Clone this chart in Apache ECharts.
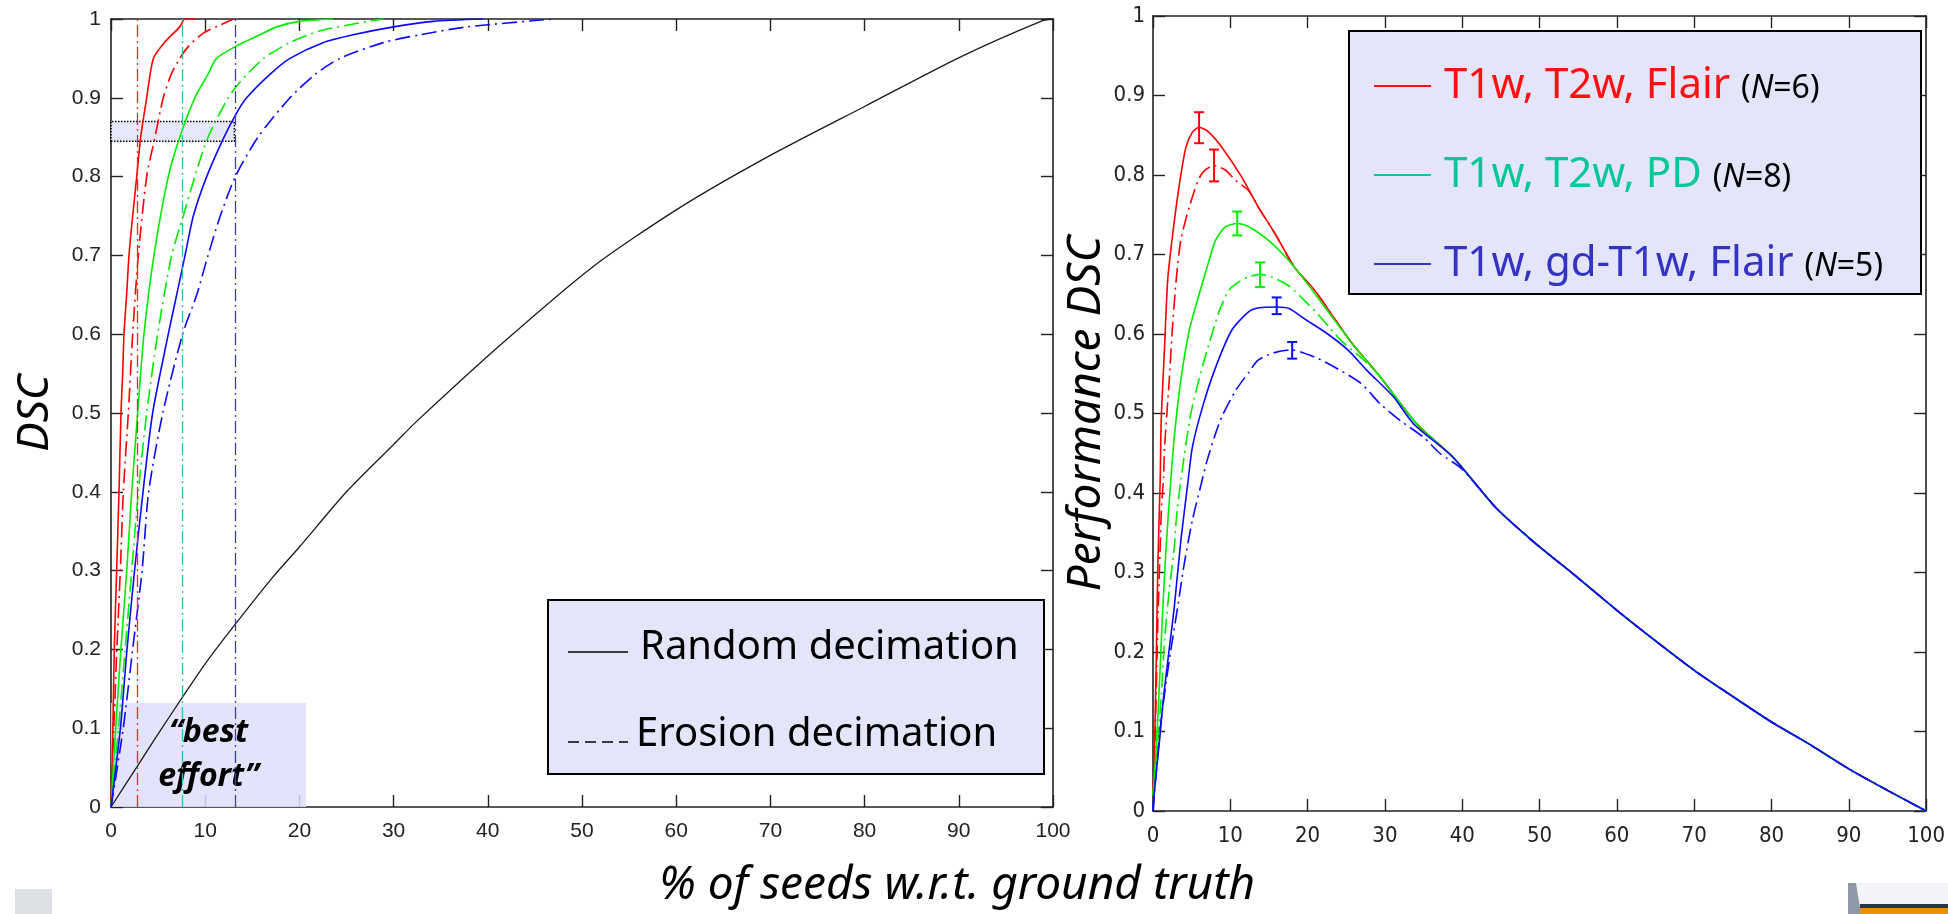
<!DOCTYPE html>
<html><head><meta charset="utf-8">
<script src="https://cdn.jsdelivr.net/npm/echarts@6.0.0/dist/echarts.min.js"></script>
<style>html,body{margin:0;padding:0;background:#fff}#c{width:1948px;height:914px}</style>
</head><body><div id="c"></div>
<script>
// ---------- LEFT PANEL DATA: DSC vs % of seeds ----------
const leftRedSolid = [[0,0],[0.2,0.1],[0.35,0.2],[0.6,0.3],[0.85,0.4],[1.06,0.5],[1.24,0.55],[1.38,0.6],[1.66,0.65],[1.91,0.7],[2.3,0.75],[2.73,0.8],[3.15,0.85],[3.79,0.9],[4.5,0.95],[5.73,0.971],[7.3,0.99],[7.85,1.0],[9.0,1.0]];
const leftRedDash = [[0,0],[0.3,0.1],[0.62,0.2],[0.99,0.3],[1.31,0.4],[1.84,0.5],[2.3,0.6],[2.9,0.7],[3.79,0.8],[4.67,0.85],[5.55,0.9],[6.4,0.93],[7.3,0.95],[8.2,0.965],[9.8,0.982],[11.6,0.9925],[13,1.0]];
const leftGreenSolid = [[0,0],[0.5,0.1],[1.05,0.2],[1.67,0.3],[2.2,0.4],[2.83,0.5],[3.5,0.6],[4.56,0.7],[6.08,0.8],[7.3,0.85],[8.9,0.9],[10.3,0.93],[11.2,0.95],[13.2,0.965],[15.8,0.98],[17.6,0.99],[20,0.997],[23.6,1.0]];
const leftGreenDash = [[0,0],[0.8,0.1],[1.5,0.2],[2.2,0.3],[2.9,0.4],[3.79,0.5],[4.95,0.6],[6.44,0.7],[7.67,0.75],[8.9,0.8],[10.3,0.85],[12.45,0.9],[13.7,0.92],[16.2,0.95],[19,0.97],[22.2,0.985],[26.4,0.995],[28.9,1.0]];
const leftBlueSolid = [[0,0],[1.0,0.1],[1.7,0.2],[2.5,0.3],[3.4,0.4],[4.42,0.5],[6.08,0.6],[6.97,0.65],[7.86,0.7],[8.74,0.75],[10.16,0.8],[12.0,0.85],[13.3,0.88],[14.4,0.9],[16.9,0.93],[19.0,0.95],[22.5,0.97],[25.7,0.98],[30.0,0.99],[34.2,0.997],[39.5,1.0]];
const leftBlueDash = [[0,0],[1.3,0.1],[2.3,0.2],[3.3,0.3],[4.0,0.4],[5.5,0.5],[7.6,0.6],[9.1,0.65],[10.3,0.7],[11.6,0.75],[13.2,0.8],[15.6,0.85],[19.0,0.9],[21.7,0.93],[24.3,0.95],[28.9,0.97],[32.8,0.98],[37.8,0.99],[47,1.0]];
const leftRandom = [[0,0],[2.7,0.05],[4.85,0.09],[7.57,0.139],[10.2,0.185],[13.2,0.232],[17.2,0.292],[20,0.33],[25,0.4],[30,0.46],[32.5,0.49],[41.3,0.586],[51.2,0.686],[60.3,0.76],[69.7,0.825],[80,0.889],[90.2,0.952],[98.9,0.998],[100,1]];
const leftVLines = [2.83, 7.57, 13.2];
const bestBox = [[0,0],[20.7,0.132]];
const dottedBox = [[0,0.845],[13.1,0.87]];

// ---------- RIGHT PANEL DATA: Performance DSC vs % of seeds ----------
const rightTail = [[44.3,0.382],[49,0.3405],[55,0.293],[60,0.2525],[65,0.214],[70,0.177],[75,0.144],[80,0.112],[85,0.0835],[90,0.053],[95,0.026],[100,0]];
const rightRedSolid = [[0,0.02],[0.2,0.08],[0.42,0.19],[0.63,0.311],[0.93,0.416],[1.06,0.491],[1.5,0.584],[1.9,0.668],[2.55,0.726],[3.0,0.76],[3.6,0.80],[4.26,0.835],[5.1,0.854],[5.96,0.86],[7.2,0.854],[8.9,0.835],[11.5,0.797],[13.6,0.76],[15.8,0.726],[18.3,0.684],[20.9,0.655],[23.5,0.619],[25.6,0.59],[29.4,0.546],[34.1,0.487],[38.8,0.445]];
const rightRedDash = [[0,0.02],[0.3,0.1],[0.63,0.24],[0.93,0.332],[1.06,0.374],[1.36,0.42],[1.5,0.458],[2.1,0.542],[2.5,0.605],[3.0,0.668],[3.6,0.718],[4.7,0.76],[6.2,0.80],[7.88,0.812],[9.4,0.806],[10.7,0.793],[12.4,0.78],[13.6,0.76],[15.8,0.726],[18.3,0.684],[20.9,0.655],[23.5,0.619],[25.6,0.59],[29.4,0.546],[34.1,0.487],[38.8,0.445]];
const rightGreenSolid = [[0,0.02],[0.43,0.08],[0.85,0.164],[1.19,0.24],[1.7,0.332],[2.3,0.416],[2.8,0.475],[3.6,0.542],[4.7,0.605],[6.0,0.651],[7.0,0.684],[8.1,0.718],[9.4,0.735],[10.9,0.739],[12.4,0.735],[14.9,0.718],[17.5,0.693],[20.0,0.663],[22.6,0.629],[25.6,0.59],[29.4,0.546],[34.1,0.487],[38.8,0.445]];
const rightGreenDash = [[0,0.02],[0.5,0.07],[1.06,0.143],[1.5,0.215],[2.1,0.278],[2.76,0.332],[3.0,0.366],[3.6,0.416],[4.9,0.5],[6.4,0.559],[8.5,0.627],[9.8,0.655],[11.0,0.665],[12.4,0.672],[13.85,0.675],[15.3,0.672],[17.5,0.661],[19.6,0.642],[21.5,0.623],[24.3,0.592],[27.3,0.567],[29.4,0.546],[34.1,0.487],[38.8,0.445]];
const rightBlueSolid = [[0,0.0],[0.2,0.026],[0.85,0.089],[1.36,0.143],[2.03,0.198],[2.76,0.257],[3.6,0.34],[4.5,0.412],[5.1,0.458],[6.4,0.508],[8.1,0.558],[10.2,0.605],[12.4,0.628],[13.7,0.633],[16.0,0.634],[17.6,0.632],[19.6,0.619],[22.6,0.6],[25.2,0.58],[27.7,0.554],[31.1,0.521],[33.7,0.487],[38.8,0.445]];
const rightBlueDash = [[0,0.0],[0.85,0.097],[1.5,0.148],[2.3,0.202],[3.2,0.257],[4.04,0.311],[5.1,0.366],[6.2,0.41],[7.0,0.441],[8.1,0.475],[8.9,0.496],[10.7,0.529],[12.4,0.552],[13.6,0.567],[15.5,0.576],[17.9,0.58],[20.9,0.571],[23.9,0.556],[26.9,0.538],[29.4,0.512],[32.0,0.491],[35,0.47],[37.1,0.45],[40,0.43]];
// error bars (x, mean, low, high, colour index)
const errX    = [5.96, 7.9, 10.9, 13.85, 16.0, 18.0];
const errMean = [0.859, 0.812, 0.739, 0.675, 0.634, 0.580];
const errLow  = [0.840, 0.792, 0.724, 0.659, 0.625, 0.569];
const errHigh = [0.879, 0.832, 0.754, 0.690, 0.646, 0.590];
const errCol  = [0, 0, 1, 1, 2, 2];
const legendNames = ['T1w, T2w, Flair', 'T1w, T2w, PD', 'T1w, gd-T1w, Flair'];
const legendN = [6, 8, 5];

// ---------- STYLE ----------
const RED = '#ff0000', GREEN = '#00ee00', BLUE = '#0a0aff';
const LEG_COLORS = ['#ff1010', '#00c896', '#3434c4'];
const errColors = [RED, GREEN, BLUE];
const DASHDOT = [15, 5, 2, 5];
const LAV = '#e5e5fa';
const TXT = '"Noto Sans", "DejaVu Sans", sans-serif';
const TICKF = '"Liberation Sans", Arial, sans-serif';
const NARROW = '"Liberation Sans Narrow", "DejaVu Sans Condensed", "Liberation Sans", sans-serif';

function line(name, data, color, type, xi, yi, extra) {
  return Object.assign({
    name, type: 'line', data, xAxisIndex: xi, yAxisIndex: yi,
    symbol: 'none', showSymbol: false, smooth: 0.25,
    lineStyle: { color, width: 1.6, type }, itemStyle: { color },
    silent: true, animation: false, z: 3
  }, extra || {});
}
const tail = rightTail;

function axisX(gi, pos, show, fontFamily, fontSize) {
  return {
    gridIndex: gi, type: 'value', min: 0, max: 100, interval: 10, position: pos,
    axisLine: { show: true, onZero: false, lineStyle: { color: '#222', width: 1.6 } },
    axisTick: { show: true, inside: true, length: 12, lineStyle: { color: '#222', width: 1.4 } },
    axisLabel: { show, fontSize: fontSize || 21, margin: 14, color: '#222', fontFamily },
    splitLine: { show: false }
  };
}
function axisY(gi, pos, show, fontFamily, fontSize, margin, name, nameGap, nameSize) {
  return {
    gridIndex: gi, type: 'value', min: 0, max: 1, interval: 0.1, position: pos,
    name: name || '', nameLocation: 'middle', nameGap: nameGap || 0, nameRotate: 90,
    nameTextStyle: { fontFamily: TXT, fontStyle: 'italic', fontSize: nameSize || 40, color: '#000' },
    axisLine: { show: true, onZero: false, lineStyle: { color: '#222', width: 1.6 } },
    axisTick: { show: true, inside: true, length: 12, lineStyle: { color: '#222', width: 1.4 } },
    axisLabel: { show, fontSize: fontSize || 21, margin: margin || 10, color: '#222', fontFamily },
    splitLine: { show: false }
  };
}

const chart = echarts.init(document.getElementById('c'), null, { renderer: 'canvas' });

const option = {
  backgroundColor: '#ffffff',
  animation: false,
  grid: [
    { left: 111, top: 19, width: 942, height: 788 },
    { left: 1153, top: 16, width: 782, height: 795 }
  ],
  xAxis: [
    axisX(0, 'bottom', true, TICKF, 21),
    axisX(0, 'top', false, TICKF),
    axisX(1, 'bottom', true, NARROW, 22),
    axisX(1, 'top', false, NARROW)
  ],
  yAxis: [
    axisY(0, 'left', true, TICKF, 21, 10, 'DSC', 54, 44),
    axisY(0, 'right', false, TICKF),
    axisY(1, 'left', true, NARROW, 22, 8, 'Performance DSC', 38, 46),
    axisY(1, 'right', false, NARROW)
  ],
  legend: {
    show: true, orient: 'vertical', left: 1369, top: 56,
    itemWidth: 57, itemHeight: 2, itemGap: 39, icon: 'rect', selectedMode: false,
    textStyle: {
      fontFamily: TXT, fontSize: 42, lineHeight: 50,
      rich: {
        g: { width: 8 },
        n: { fontFamily: TXT, fontSize: 32, color: '#000', padding: [6, 0, 0, 0] },
        ni: { fontFamily: TXT, fontSize: 32, color: '#000', fontStyle: 'italic', padding: [6, 0, 0, 0] }
      }
    },
    formatter: function (name) {
      const i = legendNames.indexOf(name);
      return '{g|}' + name + ' {n|(}{ni|N}{n|=' + legendN[i] + ')}';
    },
    data: legendNames.map((n, i) => ({ name: n, textStyle: { color: LEG_COLORS[i] }, itemStyle: { color: LEG_COLORS[i] } }))
  },
  series: [
    // left panel
    line('Random decimation', leftRandom, '#1a1a1a', 'solid', 0, 0, {
      lineStyle: { color: '#1a1a1a', width: 1.3 },
      markArea: {
        silent: true,
        data: [
          [{ coord: bestBox[0], itemStyle: { color: 'rgba(222,222,250,0.85)', borderWidth: 0 },
             label: { show: true, position: 'inside', formatter: '\u201Cbest\neffort\u201D', fontFamily: TXT, fontStyle: 'italic', fontWeight: 'bold', fontSize: 32, lineHeight: 44, color: '#000' } },
           { coord: bestBox[1] }],
          [{ coord: dottedBox[0], itemStyle: { color: 'rgba(228,228,250,0.9)', borderColor: '#000', borderWidth: 1.5, borderType: 'dotted' }, label: { show: false } },
           { coord: dottedBox[1] }]
        ]
      },
      markLine: {
        silent: true, symbol: ['none', 'none'], label: { show: false },
        data: [
          { xAxis: leftVLines[0], lineStyle: { color: '#ff2020', type: [12, 4, 2, 4], width: 1.3 } },
          { xAxis: leftVLines[1], lineStyle: { color: '#20c8a8', type: [12, 4, 2, 4], width: 1.3 } },
          { xAxis: leftVLines[2], lineStyle: { color: '#3a3ad0', type: [12, 4, 2, 4], width: 1.3 } }
        ]
      }
    }),
    line('Erosion red', leftRedDash, RED, DASHDOT, 0, 0),
    line('Random red', leftRedSolid, RED, 'solid', 0, 0),
    line('Erosion green', leftGreenDash, GREEN, DASHDOT, 0, 0),
    line('Random green', leftGreenSolid, GREEN, 'solid', 0, 0),
    line('Erosion blue', leftBlueDash, BLUE, DASHDOT, 0, 0),
    line('Random blue', leftBlueSolid, BLUE, 'solid', 0, 0),
    // right panel
    line('T1w, T2w, Flair', rightRedSolid.concat(tail), RED, 'solid', 2, 2),
    line('red erosion', rightRedDash.concat(tail), RED, DASHDOT, 2, 2),
    line('T1w, T2w, PD', rightGreenSolid.concat(tail), GREEN, 'solid', 2, 2),
    line('green erosion', rightGreenDash.concat(tail), GREEN, DASHDOT, 2, 2),
    line('T1w, gd-T1w, Flair', rightBlueSolid.concat(tail), BLUE, 'solid', 2, 2),
    line('blue erosion', rightBlueDash.concat(tail), BLUE, DASHDOT, 2, 2),
    {
      name: 'error bars', type: 'custom', xAxisIndex: 2, yAxisIndex: 2, silent: true, z: 5,
      encode: { x: 0, y: 1 },
      data: errX.map((x, i) => [x, errMean[i], errLow[i], errHigh[i], errCol[i]]),
      renderItem: function (params, api) {
        const x = api.value(0), lo = api.value(2), hi = api.value(3);
        const c = errColors[api.value(4)];
        const a = api.coord([x, lo]), b = api.coord([x, hi]);
        const w = 5, st = { stroke: c, lineWidth: 2 };
        return { type: 'group', children: [
          { type: 'line', shape: { x1: a[0], y1: a[1], x2: b[0], y2: b[1] }, style: st },
          { type: 'line', shape: { x1: a[0] - w, y1: a[1], x2: a[0] + w, y2: a[1] }, style: st },
          { type: 'line', shape: { x1: b[0] - w, y1: b[1], x2: b[0] + w, y2: b[1] }, style: st }
        ] };
      }
    }
  ],
  graphic: [
    // left legend box
    { type: 'rect', z: 10, shape: { x: 548, y: 600, width: 496, height: 174 }, style: { fill: LAV, stroke: '#000', lineWidth: 2 } },
    { type: 'line', z: 11, shape: { x1: 568, y1: 652, x2: 628, y2: 652 }, style: { stroke: '#000', lineWidth: 1.5 } },
    { type: 'line', z: 11, shape: { x1: 568, y1: 742, x2: 628, y2: 742 }, style: { stroke: '#000', lineWidth: 1.5, lineDash: [11, 6] } },
    { type: 'text', z: 11, x: 640, y: 648, style: { text: 'Random decimation', font: '40px ' + TXT, fill: '#000', align: 'left', verticalAlign: 'middle', textAlign: 'left', textVerticalAlign: 'middle' } },
    { type: 'text', z: 11, x: 636, y: 735, style: { text: 'Erosion decimation', font: '40px ' + TXT, fill: '#000', align: 'left', verticalAlign: 'middle', textAlign: 'left', textVerticalAlign: 'middle' } },
    // right legend box (items drawn by the legend component)
    { type: 'rect', z: 1, shape: { x: 1349, y: 31, width: 572, height: 263 }, style: { fill: LAV, stroke: '#000', lineWidth: 2 } },
    // shared x-axis title
    { type: 'text', z: 11, x: 957, y: 886, style: { text: '% of seeds w.r.t. ground truth', font: 'italic 46px ' + TXT, fill: '#000', align: 'center', verticalAlign: 'middle', textAlign: 'center', textVerticalAlign: 'middle' } },
    // slide decorations
    { type: 'rect', z: 1, shape: { x: 15, y: 889, width: 37, height: 25 }, style: { fill: '#dcdfe4' } },
    { type: 'rect', z: 1, shape: { x: 1848, y: 883, width: 100, height: 31 }, style: { fill: '#f2f4f7' } },
    { type: 'polygon', z: 1, shape: { points: [[1848, 883], [1856, 883], [1861, 914], [1848, 914]] }, style: { fill: '#8d9aa6' } },
    { type: 'rect', z: 1, shape: { x: 1860, y: 904, width: 88, height: 4 }, style: { fill: '#2a3446' } },
    { type: 'rect', z: 1, shape: { x: 1860, y: 908, width: 88, height: 6 }, style: { fill: '#f28c00' } }
  ]
};
chart.setOption(option);
</script></body></html>
